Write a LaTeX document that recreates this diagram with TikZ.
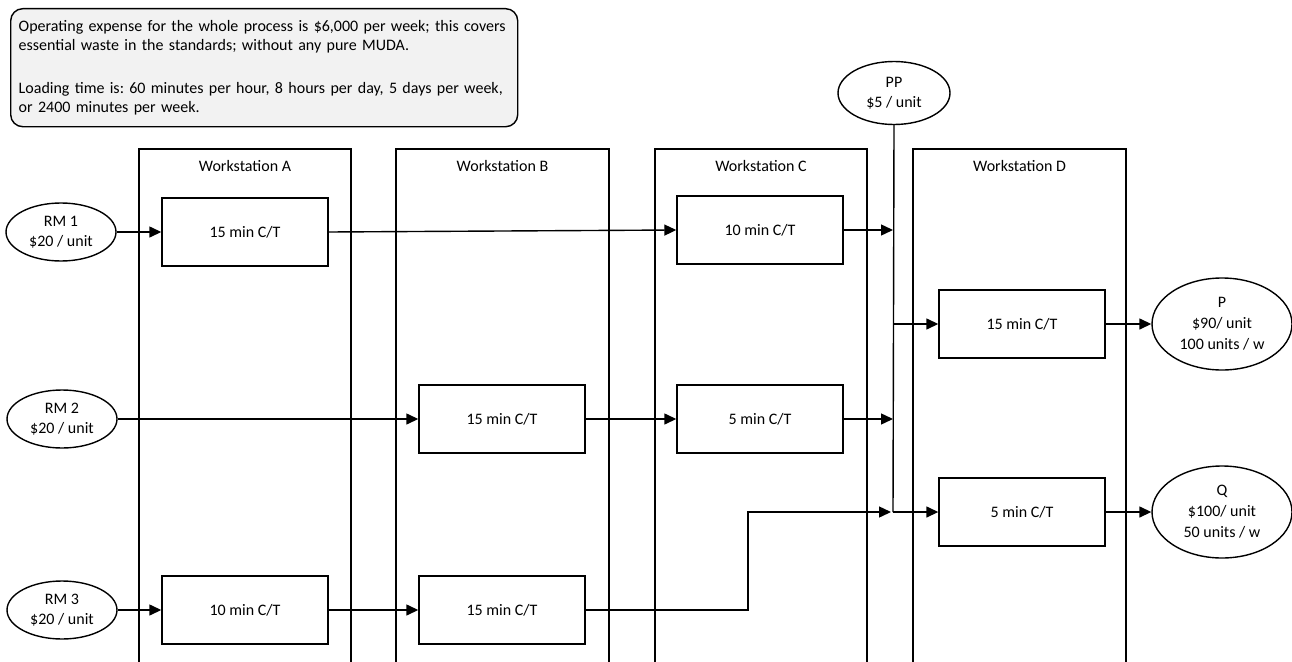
\documentclass[tikz,border=0pt]{standalone}
\usepackage{fontspec}
\setmainfont{Carlito}
\usetikzlibrary{arrows.meta,shapes.geometric}
\definecolor{notefill}{RGB}{242,242,242}

\begin{document}
\frenchspacing
\begin{tikzpicture}[x=1pt, y=-1pt, line width=1.4pt,
  font=\fontsize{16}{20}\selectfont,
  proc/.style={draw, minimum width=166pt, minimum height=68pt, inner sep=0pt},
  src/.style={draw, ellipse, minimum width=110pt, minimum height=58pt, inner sep=0pt, align=center},
  sink/.style={draw, ellipse, minimum width=140pt, minimum height=92pt, inner sep=0pt, align=center,
               font=\fontsize{16}{21}\selectfont},
  flow/.style={-{Triangle[length=12pt,width=11pt]}},
  notebox/.style={draw, rounded corners=12pt, fill=notefill, minimum width=507pt, minimum height=118pt, inner sep=0pt},
  notetxt/.style={align=left, text width=495pt, inner sep=0pt, font=\fontsize{16}{18.5}\selectfont}
]
\useasboundingbox (0,0) rectangle (1292,661);

% explanatory note
\node[notebox, anchor=north west] (note) at (10,8) {};
\node[notetxt, anchor=north west] (notetext) at (18,20)
  {Operating expense for the whole process is \$6,000 per week; this covers\\
   essential waste in the standards; without any pure MUDA.\\[25pt]
   Loading time is: 60 minutes per hour, 8 hours per day, 5 days per week,\\
   or 2400 minutes per week.};

% workstation columns (open at the bottom)
\foreach \l/\r/\n in {139/351/A, 396/609/B, 655/867/C, 913/1126/D} {
  \draw (\l,665) -- (\l,149) -- (\r,149) -- (\r,665);
  \node (t\n) at ({(\l+\r)/2},166) {Workstation \n};
}

% raw materials and purchased part
\node[src] (rm1) at (61,232) {RM 1\\ \$20 / unit};
\node[src] (rm2) at (62,419) {RM 2\\ \$20 / unit};
\node[src] (rm3) at (62,610) {RM 3\\ \$20 / unit};
\node[src, minimum width=112pt, minimum height=63pt] (pp) at (894,93) {PP\\ \$5 / unit};

% process steps
\node[proc] (a1) at (245,232) {15 min C/T};
\node[proc] (c1) at (760,230) {10 min C/T};
\node[proc] (d1) at (1022,324) {15 min C/T};
\node[proc] (b2) at (502,419) {15 min C/T};
\node[proc] (c2) at (760,419) {5 min C/T};
\node[proc] (d2) at (1022,512) {5 min C/T};
\node[proc] (a3) at (245,610) {10 min C/T};
\node[proc] (b3) at (502,610) {15 min C/T};

% finished products
\node[sink] (p) at (1222,324) {P\\ \$90/ unit\\ 100 units / w};
\node[sink] (q) at (1222,512) {Q\\ \$100/ unit\\ 50 units / w};

% junction points on the PP line
\coordinate (j1) at (893,230);
\coordinate (jp) at (893,324);
\coordinate (j2) at (893,419);
\coordinate (jq) at (893,512);
\coordinate (bend) at (748,610);

\draw (pp.south) -- (jq);

% material flow
\draw[flow] (rm1.east) -- (a1.west);
\draw[flow] (a1.east) -- (c1.west);
\draw[flow] (c1.east) -- (j1);
\draw[flow] (jp) -- (d1.west);
\draw[flow] (d1.east) -- (p.west);

\draw[flow] (rm2.east) -- (b2.west);
\draw[flow] (b2.east) -- (c2.west);
\draw[flow] (c2.east) -- (j2);

\draw[flow] (rm3.east) -- (a3.west);
\draw[flow] (a3.east) -- (b3.west);
\draw[flow] (b3.east) -- (bend) |- ([xshift=-2pt]jq);
\draw[flow] (jq) -- (d2.west);
\draw[flow] (d2.east) -- (q.west);
\end{tikzpicture}
\end{document}
